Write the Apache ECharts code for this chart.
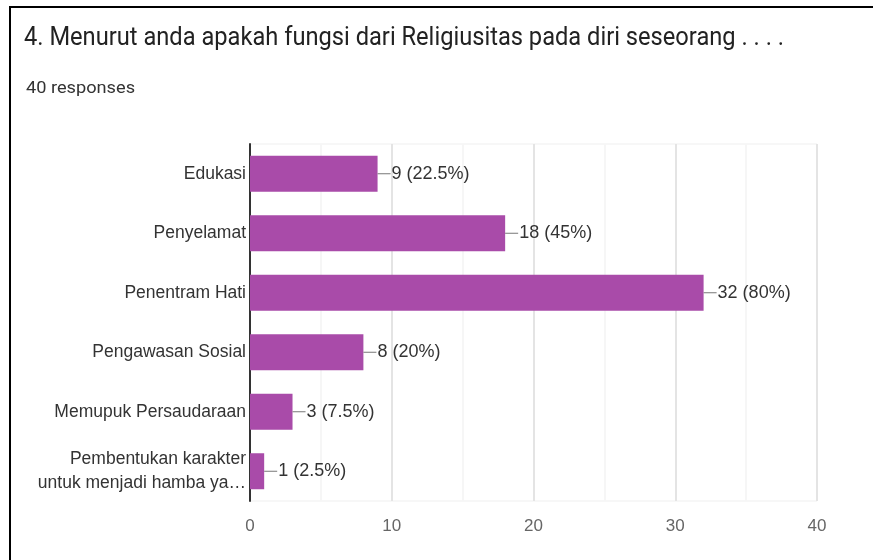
<!DOCTYPE html>
<html>
<head>
<meta charset="utf-8">
<script src="https://cdn.jsdelivr.net/npm/echarts@6/dist/echarts.min.js"></script>
<style>html,body{margin:0;padding:0;background:#fff}#c{width:873px;height:560px}</style>
</head>
<body>
<div id="c"></div>
<script>
const titleText = '4. Menurut anda apakah fungsi dari Religiusitas pada diri seseorang . . . .';
const subtitleText = '40 responses';
const categories = ['Edukasi', 'Penyelamat', 'Penentram Hati', 'Pengawasan Sosial', 'Memupuk Persaudaraan', 'Pembentukan karakter\nuntuk menjadi hamba ya…'];
const counts = [9, 18, 32, 8, 3, 1];
const percents = ['22.5%', '45%', '80%', '20%', '7.5%', '2.5%'];
const xTicks = [0, 10, 20, 30, 40];

const chart = echarts.init(document.getElementById('c'), null, {renderer: 'canvas'});
const font = 'Liberation Sans, Arial, sans-serif';
chart.setOption({
  animation: false,
  backgroundColor: '#fff',
  graphic: [
    {type: 'line', shape: {x1: 10, y1: 7, x2: 10, y2: 560}, style: {stroke: '#000', lineWidth: 2}},
    {type: 'line', shape: {x1: 9, y1: 7, x2: 873, y2: 7}, style: {stroke: '#000', lineWidth: 2}},
    {type: 'text', x: 24, y: 38, scaleX: 0.91, style: {text: titleText, fontFamily: 'Roboto, sans-serif', fontSize: 26, fill: '#222', verticalAlign: 'middle', align: 'left'}},
    {type: 'text', x: 26, y: 89, scaleX: 1.07, style: {text: subtitleText, fontFamily: 'Roboto, sans-serif', fontSize: 17, fill: '#333', verticalAlign: 'middle', align: 'left'}}
  ],
  grid: {left: 250, right: 56, top: 144, bottom: 59, show: true, borderColor: '#efefef', borderWidth: 1},
  xAxis: {
    type: 'value', min: xTicks[0], max: xTicks[xTicks.length - 1], interval: 10,
    axisLine: {show: false}, axisTick: {show: false},
    axisLabel: {fontFamily: font, fontSize: 17, color: '#666', margin: 17},
    splitLine: {show: true, lineStyle: {color: '#e4e4e4', width: 2}},
    minorTick: {show: false, splitNumber: 2},
    minorSplitLine: {show: true, lineStyle: {color: '#f6f6f6', width: 2}}
  },
  yAxis: {
    type: 'category', data: categories, inverse: true,
    axisLine: {show: true, lineStyle: {color: '#333', width: 2}},
    axisTick: {show: false},
    axisLabel: {fontFamily: font, fontSize: 17.5, color: '#333', margin: 4, align: 'right', lineHeight: 24}
  },
  series: [{
    type: 'bar', data: counts, barWidth: 36,
    itemStyle: {color: '#a94ba9'},
    label: {
      show: true, position: 'right', distance: 0,
      formatter: p => '{l|}{v|' + p.value + ' (' + percents[p.dataIndex] + ')}',
      rich: {
        l: {width: 13, height: 1, backgroundColor: '#777'},
        v: {fontFamily: font, fontSize: 18, color: '#333', padding: [0, 0, 0, 1]}
      }
    }
  }]
});
</script>
</body>
</html>
